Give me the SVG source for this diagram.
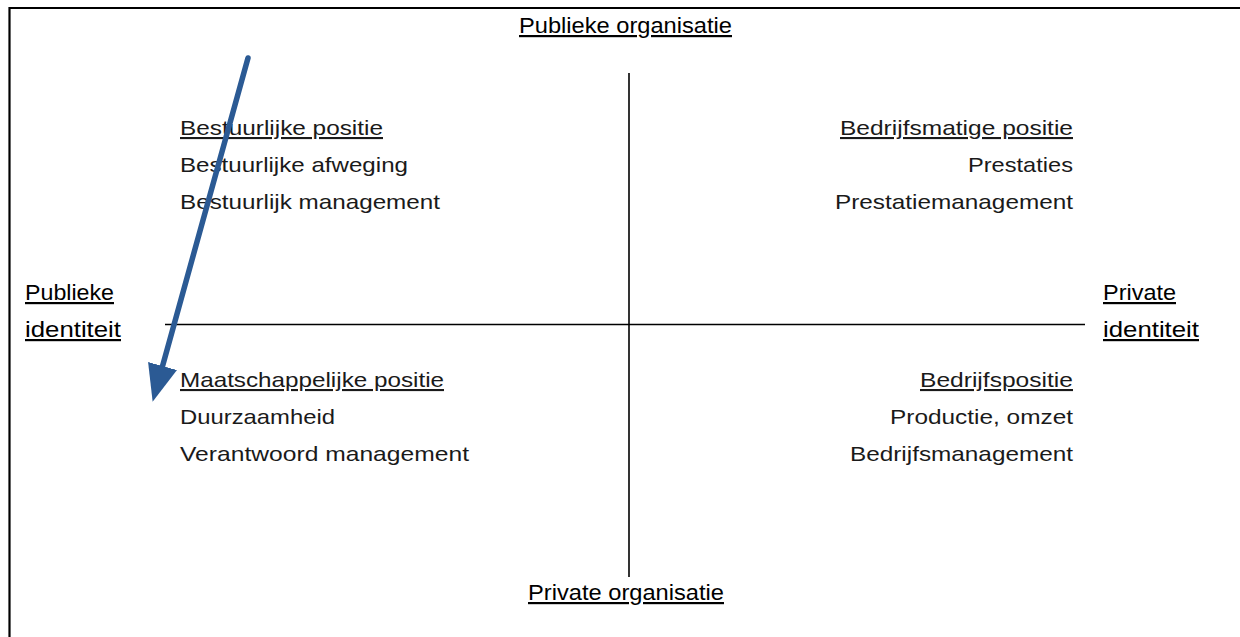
<svg xmlns="http://www.w3.org/2000/svg" width="1240" height="637" viewBox="0 0 1240 637">
  <style>
    .lbl { font-family: "Liberation Sans", Arial, sans-serif; font-size: 22px; fill: #000; text-decoration: underline; }
    .txt { font-family: "Liberation Sans", Arial, sans-serif; font-size: 21px; fill: #1a1a1a; }
    .head { text-decoration: underline; }
    .axis { stroke: #000; stroke-width: 1.6; fill: none; }
    .frame { stroke: #000; stroke-width: 2.2; fill: none; }
  </style>
  <defs>
    <marker id="arrowhead" markerUnits="userSpaceOnUse" markerWidth="40" markerHeight="32" refX="2" refY="15" orient="auto">
      <path d="M0,0 L37,15 L0,30 z" fill="#2B5A94"/>
    </marker>
  </defs>
  <rect width="1240" height="637" fill="#fff"/>

  <!-- outer frame (open on the right and bottom) -->
  <path class="frame" d="M9.5,640 L9.5,8 L1242,8"/>

  <!-- axes -->
  <g id="axes">
    <line class="axis" x1="629" y1="73" x2="629" y2="577"/>
    <line class="axis" x1="165" y1="324.5" x2="1085" y2="324.5"/>
  </g>

  <!-- axis labels -->
  <g id="label-top">
    <text class="lbl" x="519" y="33" textLength="213" lengthAdjust="spacingAndGlyphs">Publieke organisatie</text>
  </g>
  <g id="label-bottom">
    <text class="lbl" x="528" y="600" textLength="196" lengthAdjust="spacingAndGlyphs">Private organisatie</text>
  </g>
  <g id="label-left">
    <text class="lbl" x="25" y="300" textLength="89" lengthAdjust="spacingAndGlyphs">Publieke</text>
    <text class="lbl" x="25" y="337" textLength="96" lengthAdjust="spacingAndGlyphs">identiteit</text>
  </g>
  <g id="label-right">
    <text class="lbl" x="1103" y="300" textLength="73" lengthAdjust="spacingAndGlyphs">Private</text>
    <text class="lbl" x="1103" y="337" textLength="96" lengthAdjust="spacingAndGlyphs">identiteit</text>
  </g>

  <!-- quadrants -->
  <g id="quadrant-top-left">
    <text class="txt head" x="180" y="135" textLength="203" lengthAdjust="spacingAndGlyphs">Bestuurlijke positie</text>
    <text class="txt" x="180" y="172" textLength="228" lengthAdjust="spacingAndGlyphs">Bestuurlijke afweging</text>
    <text class="txt" x="180" y="209" textLength="260" lengthAdjust="spacingAndGlyphs">Bestuurlijk management</text>
  </g>
  <g id="quadrant-top-right">
    <text class="txt head" x="840" y="135" textLength="233" lengthAdjust="spacingAndGlyphs">Bedrijfsmatige positie</text>
    <text class="txt" x="968" y="172" textLength="105" lengthAdjust="spacingAndGlyphs">Prestaties</text>
    <text class="txt" x="835" y="209" textLength="238" lengthAdjust="spacingAndGlyphs">Prestatiemanagement</text>
  </g>
  <g id="quadrant-bottom-left">
    <text class="txt head" x="180" y="387" textLength="264" lengthAdjust="spacingAndGlyphs">Maatschappelijke positie</text>
    <text class="txt" x="180" y="424" textLength="155" lengthAdjust="spacingAndGlyphs">Duurzaamheid</text>
    <text class="txt" x="180" y="461" textLength="289" lengthAdjust="spacingAndGlyphs">Verantwoord management</text>
  </g>
  <g id="quadrant-bottom-right">
    <text class="txt head" x="920" y="387" textLength="153" lengthAdjust="spacingAndGlyphs">Bedrijfspositie</text>
    <text class="txt" x="890" y="424" textLength="183" lengthAdjust="spacingAndGlyphs">Productie, omzet</text>
    <text class="txt" x="850" y="461" textLength="223" lengthAdjust="spacingAndGlyphs">Bedrijfsmanagement</text>
  </g>

  <!-- connectors -->
  <g id="connectors">
    <line x1="248" y1="58" x2="162" y2="368" stroke="#2B5A94" stroke-width="5.5" stroke-linecap="round" marker-end="url(#arrowhead)"/>
  </g>
</svg>
